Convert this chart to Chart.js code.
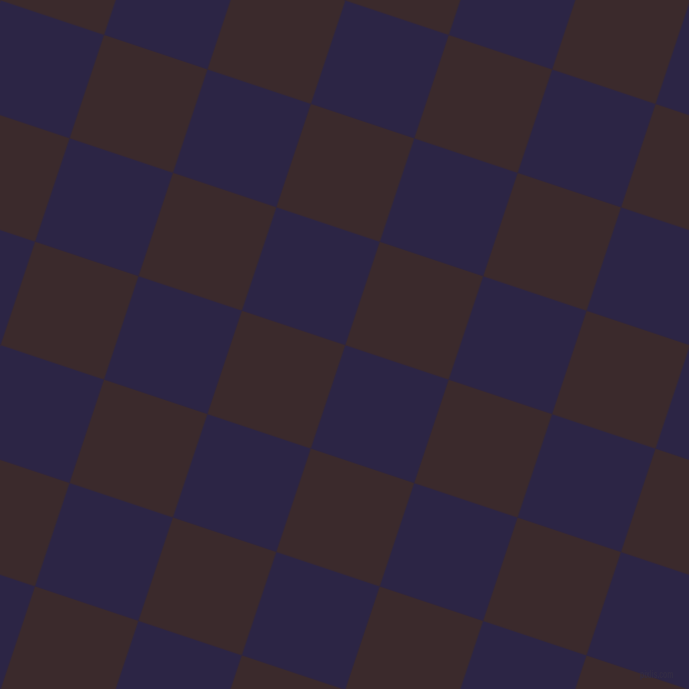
<!DOCTYPE html>
<html>
<head>
<meta charset="utf-8">
<script src="https://cdn.jsdelivr.net/npm/chart.js@4.4.1/dist/chart.umd.min.js"></script>
<style>
  html, body { margin: 0; padding: 0; width: 689px; height: 689px; overflow: hidden; background: #2c2545; }
  #wrap { position: absolute; left: 0.7px; top: -344.2px; width: 1199px; height: 1199px;
          transform-origin: 0 0; transform: rotate(18.45deg); }
  #board { display: block; }
  #mark { position: absolute; left: 640px; top: 668px; font: bold 11px "Liberation Sans", sans-serif;
          color: #332c44; transform-origin: 0 0; transform: scaleX(0.62); white-space: nowrap; }
</style>
</head>
<body>
<div id="wrap"><canvas id="board" width="1199" height="1199"></canvas></div>
<div id="mark">pixlis.com</div>
<script>
// checkerboard: 11 columns x 11 rows, every cell one unit tall
const columns = ['c1', 'c2', 'c3', 'c4', 'c5', 'c6', 'c7', 'c8', 'c9', 'c10', 'c11'];
const rows = ['r1', 'r2', 'r3', 'r4', 'r5', 'r6', 'r7', 'r8', 'r9', 'r10', 'r11'];
const cellValues = [1, 1, 1, 1, 1, 1, 1, 1, 1, 1, 1];

const navy = '#2c2545';
const brown = '#3b2a2c';

// row 0 is the top of the board, stacked bars grow from the bottom
const datasets = rows.map((name, r) => {
    const fromTop = rows.length - 1 - r;
    return {
        label: name,
        data: cellValues,
        backgroundColor: columns.map((c, k) => ((k + fromTop) % 2 === 1 ? brown : navy)),
        borderWidth: 0,
        barPercentage: 1,
        categoryPercentage: 1
    };
});

const ctx = document.getElementById('board').getContext('2d');

new Chart(ctx, {
    type: 'bar',
    data: {
        labels: columns,
        datasets: datasets
    },
    options: {
        responsive: false,
        animation: false,
        devicePixelRatio: 1,
        layout: { padding: 0 },
        scales: {
            x: { stacked: true, display: false },
            y: { stacked: true, display: false, min: 0, max: rows.length }
        },
        plugins: {
            legend: { display: false },
            tooltip: { enabled: false }
        }
    }
});
</script>
</body>
</html>
